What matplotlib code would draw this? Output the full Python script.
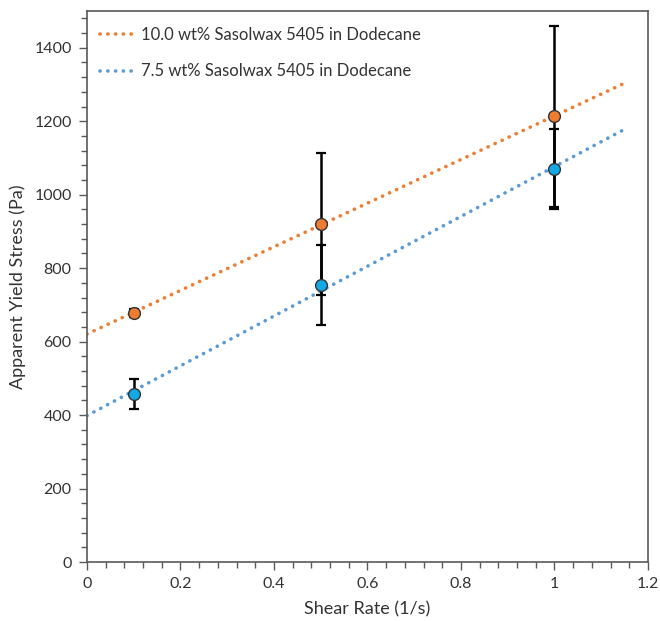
import numpy as np
import matplotlib
matplotlib.use("Agg")
import matplotlib.pyplot as plt
from matplotlib.ticker import MultipleLocator

plt.rcParams['font.family'] = ['Lato', 'DejaVu Sans']

shear_rate = [0.1, 0.5, 1.0]
stress_10 = [678, 921, 1213]
err_10 = [10, 193, 247]
stress_75 = [457, 754, 1069]
err_75 = [41, 108, 109]
label_10 = "10.0 wt% Sasolwax 5405 in Dodecane"
label_75 = "7.5 wt% Sasolwax 5405 in Dodecane"

fig = plt.figure(figsize=(6.6, 6.21), dpi=100)
ax = fig.add_axes([0.1318, 0.095, 0.8500, 0.8873])

orange_line = '#ED7D31'
blue_line = '#5B9BD5'
orange_pt = '#ED7D31'
blue_pt = '#12A8E6'

xfit = np.array([0.0, 1.15])
for y, e, lc, pc, lab in [(stress_10, err_10, orange_line, orange_pt, label_10),
                          (stress_75, err_75, blue_line, blue_pt, label_75)]:
    p = np.polyfit(shear_rate, y, 1)
    ax.plot(xfit, np.polyval(p, xfit), linestyle=(0, (0.05, 2.1)), color=lc,
            lw=2.6, dash_capstyle='round', solid_capstyle='round', label=lab, zorder=2)
    ax.errorbar(shear_rate, y, yerr=e, fmt='none', ecolor='black', elinewidth=1.8,
                capsize=3.5, capthick=1.6, zorder=3)
    ax.plot(shear_rate, y, 'o', ms=8.5, mfc=pc, mec='#333333', mew=1.0, zorder=4, linestyle='none')

ax.set_xlim(0, 1.2)
ax.set_ylim(0, 1500)
ax.xaxis.set_minor_locator(MultipleLocator(0.04))
ax.yaxis.set_minor_locator(MultipleLocator(40))
ax.set_xticks(np.arange(0, 1.21, 0.2))
ax.set_xticklabels(['0', '0.2', '0.4', '0.6', '0.8', '1', '1.2'])
ax.set_yticks(np.arange(0, 1401, 200))

spine_c = '#595959'
for s in ax.spines.values():
    s.set_color(spine_c)
    s.set_linewidth(1.2)
ax.tick_params(which='major', direction='out', length=6, width=1.0, color=spine_c,
               labelsize=11.5, labelcolor='#333333', pad=5)
ax.tick_params(which='minor', direction='out', length=4, width=1.0, color=spine_c)
ax.tick_params(axis='x', pad=5)

ax.set_xlabel('Shear Rate (1/s)', fontsize=13, color='#333333', labelpad=7)
ax.set_ylabel('Apparent Yield Stress (Pa)', fontsize=13, color='#333333', labelpad=6)

leg = ax.legend(loc='upper left', frameon=False, fontsize=12, handlelength=2.2,
                handletextpad=0.3, labelspacing=1.25, borderaxespad=0.2,
                bbox_to_anchor=(0.005, 0.99))
for t in leg.get_texts():
    t.set_color('#333333')

fig.savefig('out.png', dpi=100)
